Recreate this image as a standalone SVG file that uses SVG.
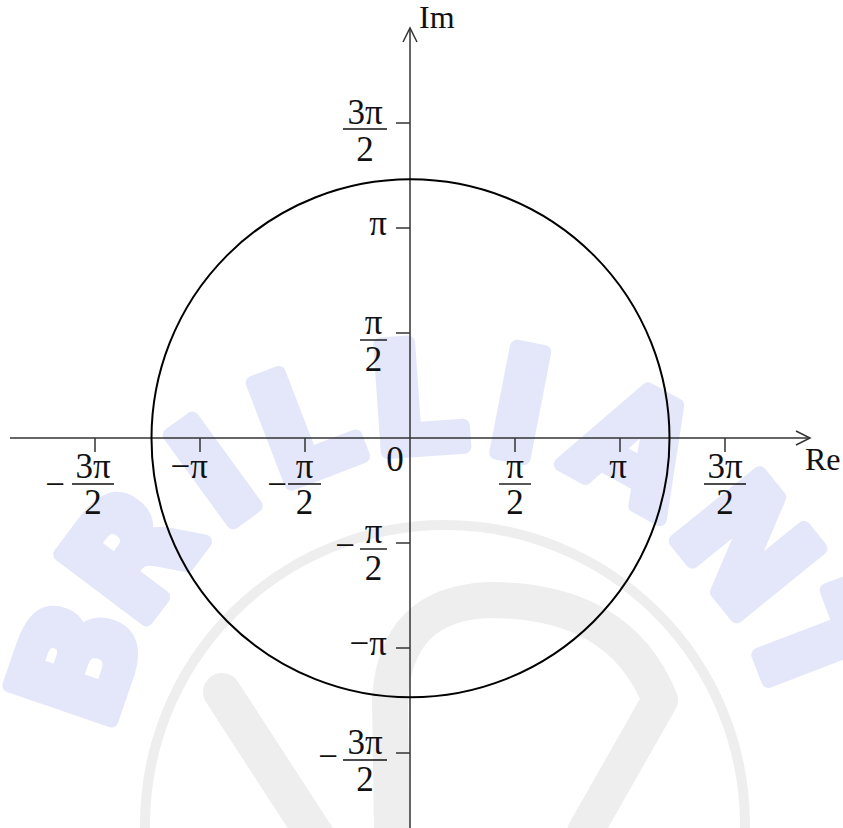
<svg xmlns="http://www.w3.org/2000/svg" width="843" height="828" viewBox="0 0 843 828">
<style>
.wm{font-family:"DejaVu Sans",sans-serif;font-weight:bold;font-size:148px;fill:#e4e7f9;stroke:#e4e7f9;stroke-width:14;stroke-linejoin:round;text-anchor:middle}
.lg{fill:none;stroke:#eeeeee;stroke-linejoin:round;stroke-linecap:round}
.ax{stroke:#333;stroke-width:1.5;fill:none}
.tk{stroke:#333;stroke-width:1.5}
.t{font-family:"Liberation Serif","Times New Roman",serif;font-size:35px;fill:#111}
.s{font-size:32px}
.c{text-anchor:middle}
.e{text-anchor:end}
.bar{stroke:#111;stroke-width:1.4}
</style>
<rect width="843" height="828" fill="#fff"/>
<g id="watermark">
<circle class="lg" cx="445" cy="825" r="300" stroke-width="10"/>
<path class="lg" d="M 392 832 L 390 700 Q 395 603 490 600 Q 620 600 660 700 L 585 832" stroke-width="36"/>
<line class="lg" x1="222" y1="692" x2="318" y2="840" stroke-width="38"/>
<g transform="translate(445,790)">
<text class="wm" transform="rotate(-71) translate(0,-392)" y="54">B</text>
<text class="wm" transform="rotate(-53) translate(0,-395)" y="54">R</text>
<text class="wm" transform="rotate(-36) translate(0,-395)" y="54">I</text>
<text class="wm" transform="rotate(-21) translate(0,-395)" y="54">L</text>
<text class="wm" transform="rotate(-4) translate(0,-395)" y="54">L</text>
<text class="wm" transform="rotate(11) translate(0,-395)" y="54">I</text>
<text class="wm" transform="rotate(29) translate(0,-395)" y="54">A</text>
<text class="wm" transform="rotate(51) translate(0,-390)" y="54">N</text>
<text class="wm" transform="rotate(69) translate(0,-395)" y="54">T</text>
</g>
</g>
<g id="connectors">
<line class="ax" x1="10" y1="438" x2="809" y2="438"/>
<polyline class="ax" points="796,431 810,438 796,445"/>
<line class="ax" x1="410" y1="828" x2="410" y2="29"/>
<polyline class="ax" points="403,42 410,28 417,42"/>
</g>
<g id="circle">
<circle cx="410.5" cy="438.3" r="259" fill="none" stroke="#000" stroke-width="2"/>
</g>
<g id="ticks">
<line class="tk" x1="95" y1="438" x2="95" y2="452"/>
<line class="tk" x1="200" y1="438" x2="200" y2="452"/>
<line class="tk" x1="305" y1="438" x2="305" y2="452"/>
<line class="tk" x1="515" y1="438" x2="515" y2="452"/>
<line class="tk" x1="620" y1="438" x2="620" y2="452"/>
<line class="tk" x1="725" y1="438" x2="725" y2="452"/>
<line class="tk" x1="396" y1="123" x2="410" y2="123"/>
<line class="tk" x1="396" y1="228" x2="410" y2="228"/>
<line class="tk" x1="396" y1="333" x2="410" y2="333"/>
<line class="tk" x1="396" y1="543" x2="410" y2="543"/>
<line class="tk" x1="396" y1="648" x2="410" y2="648"/>
<line class="tk" x1="396" y1="753" x2="410" y2="753"/>
</g>
<g id="label-im"><text class="t s" x="419" y="28">Im</text></g>
<g id="label-re"><text class="t s" x="805" y="470">Re</text></g>
<g id="label-x-m3pi2">
<text class="t c" x="55" y="496">−</text>
<line class="bar" x1="72" y1="484" x2="114" y2="484"/>
<text class="t c" x="93" y="478">3π</text>
<text class="t c" x="93" y="514">2</text>
</g>
<g id="label-x-mpi"><text class="t e" x="208" y="478">−π</text></g>
<g id="label-x-mpi2">
<text class="t c" x="277" y="496">−</text>
<line class="bar" x1="288" y1="484" x2="321" y2="484"/>
<text class="t c" x="304.5" y="478">π</text>
<text class="t c" x="304.5" y="514">2</text>
</g>
<g id="label-0"><text class="t c" x="395" y="471">0</text></g>
<g id="label-x-pi2">
<line class="bar" x1="499" y1="484" x2="531" y2="484"/>
<text class="t c" x="515" y="478">π</text>
<text class="t c" x="515" y="514">2</text>
</g>
<g id="label-x-pi"><text class="t c" x="618" y="478">π</text></g>
<g id="label-x-3pi2">
<line class="bar" x1="704" y1="484" x2="746" y2="484"/>
<text class="t c" x="725" y="478">3π</text>
<text class="t c" x="725" y="514">2</text>
</g>
<g id="label-y-3pi2">
<line class="bar" x1="343" y1="129" x2="387" y2="129"/>
<text class="t c" x="365" y="124">3π</text>
<text class="t c" x="365" y="161">2</text>
</g>
<g id="label-y-pi"><text class="t e" x="387" y="235">π</text></g>
<g id="label-y-pi2">
<line class="bar" x1="360" y1="340" x2="387" y2="340"/>
<text class="t c" x="373.5" y="334">π</text>
<text class="t c" x="373.5" y="371">2</text>
</g>
<g id="label-y-mpi2">
<text class="t c" x="345" y="557">−</text>
<line class="bar" x1="360" y1="549" x2="387" y2="549"/>
<text class="t c" x="373.5" y="543">π</text>
<text class="t c" x="373.5" y="580">2</text>
</g>
<g id="label-y-mpi"><text class="t e" x="387" y="655">−π</text></g>
<g id="label-y-m3pi2">
<text class="t c" x="328" y="768">−</text>
<line class="bar" x1="343" y1="760" x2="387" y2="760"/>
<text class="t c" x="365" y="754">3π</text>
<text class="t c" x="365" y="791">2</text>
</g>
</svg>
